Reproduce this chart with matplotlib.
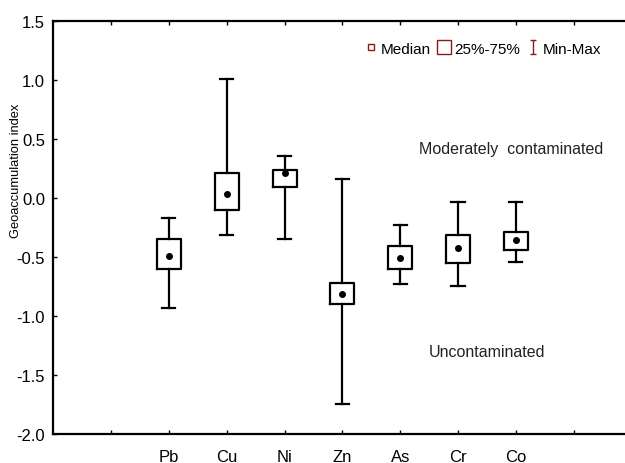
import matplotlib.pyplot as plt
from matplotlib.lines import Line2D
from matplotlib.path import Path

plt.rcParams['font.family'] = ['Liberation Sans', 'DejaVu Sans']

# data
metals = ['Pb', 'Cu', 'Ni', 'Zn', 'As', 'Cr', 'Co']
mins = [-0.93, -0.31, -0.35, -1.75, -0.73, -0.75, -0.54]
q1 = [-0.60, -0.10, 0.09, -0.90, -0.60, -0.555, -0.44]
medians = [-0.49, 0.03, 0.21, -0.81, -0.51, -0.42, -0.36]
q3 = [-0.35, 0.21, 0.24, -0.72, -0.41, -0.31, -0.29]
maxs = [-0.166, 1.01, 0.36, 0.16, -0.225, -0.03, -0.03]

positions = list(range(2, 2 + len(metals)))

fig = plt.figure(figsize=(6.25, 4.64), dpi=100)
ax = fig.add_axes([0.0853, 0.0625, 0.925, 0.8901])

stats = []
for i in range(len(metals)):
    stats.append({'label': metals[i], 'whislo': mins[i], 'q1': q1[i], 'med': medians[i],
                  'q3': q3[i], 'whishi': maxs[i], 'fliers': []})

ax.bxp(stats, positions=positions, widths=0.415, capwidths=0.225,
       boxprops=dict(color='black', linewidth=1.6),
       whiskerprops=dict(color='black', linewidth=1.6),
       capprops=dict(color='black', linewidth=1.6),
       medianprops=dict(linewidth=0),
       showfliers=False, manage_ticks=False)
ax.plot(positions, medians, 'o', color='black', markersize=4, zorder=5)

ax.set_xlim(0, 10)
ax.set_ylim(-2.0, 1.5)
ax.set_xticks(range(1, 10))
ax.set_xticklabels([''] + metals + [''])
ax.set_yticks([-2.0, -1.5, -1.0, -0.5, 0.0, 0.5, 1.0, 1.5])
ax.set_yticklabels(['-2.0', '-1.5', '-1.0', '-0.5', '0.0', '0.5', '1.0', '1.5'])
ax.tick_params(direction='in', length=3, width=1, top=True, labelsize=12, colors='black')
ax.tick_params(axis='x', pad=11)
ax.tick_params(axis='y', pad=6)
for sp in ax.spines.values():
    sp.set_linewidth(1.6)

ax.set_ylabel('Geoaccumulation index', fontsize=9.3)
ax.yaxis.set_label_coords(-0.055, 0.64)

ax.text(7.92, 0.42, 'Moderately  contaminated', fontsize=11.5, ha='center', va='center', color='#222222')
ax.text(7.5, -1.3, 'Uncontaminated', fontsize=11.5, ha='center', va='center', color='#222222')

# whisker-shaped legend symbol
whisker = Path([(-0.5, 1), (0.5, 1), (0, 1), (0, -1), (-0.5, -1), (0.5, -1)],
               [Path.MOVETO, Path.LINETO, Path.MOVETO, Path.LINETO, Path.MOVETO, Path.LINETO])

red = '#8b1a1a'
handles = [
    Line2D([], [], linestyle='none', marker='s', markersize=4, markerfacecolor='white', markeredgecolor=red),
    Line2D([], [], linestyle='none', marker='s', markersize=10, markerfacecolor='white', markeredgecolor=red),
    Line2D([], [], linestyle='none', marker=whisker, markersize=10, markeredgewidth=1, color=red),
]
ax.legend(handles, ['Median', '25%-75%', 'Min-Max'], loc='upper right', bbox_to_anchor=(0.958, 0.965),
          ncol=3, frameon=False, fontsize=11, handlelength=0.6, handletextpad=0.35,
          columnspacing=0.55, borderaxespad=0)

fig.savefig('out.png', dpi=100)
